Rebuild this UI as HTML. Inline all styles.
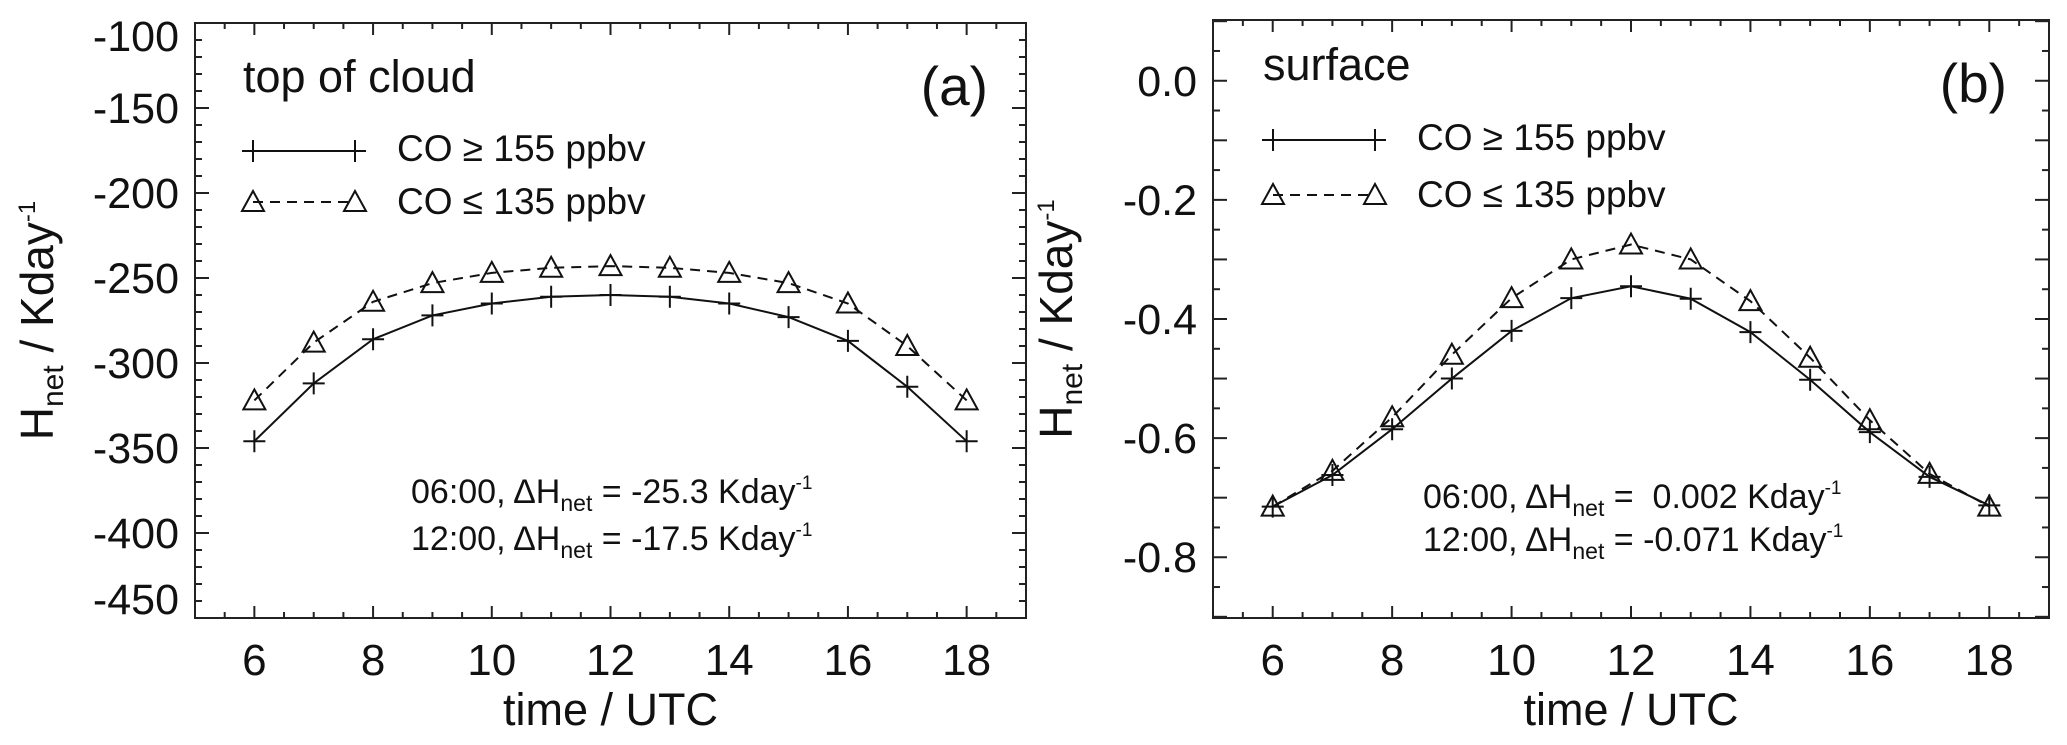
<!DOCTYPE html>
<html><head><meta charset="utf-8"><style>
html,body{margin:0;padding:0;background:#fff;}
svg{display:block;font-family:"Liberation Sans",Arial,sans-serif;}
</style></head><body>
<svg id="chart" width="2067" height="745" viewBox="0 0 2067 745" xmlns="http://www.w3.org/2000/svg"></svg>
<script>
const hours = [6,7,8,9,10,11,12,13,14,15,16,17,18];
const aHigh = [-346,-312,-286,-272,-265,-261,-260,-261,-265,-273,-287,-314,-346];
const aLow = [-322,-288,-264,-253,-247,-244,-243,-244,-247,-253,-265,-290,-322];
const bHigh = [-0.715,-0.662,-0.585,-0.5,-0.42,-0.365,-0.345,-0.366,-0.422,-0.502,-0.59,-0.665,-0.713];
const bLow = [-0.715,-0.655,-0.565,-0.46,-0.365,-0.3,-0.275,-0.3,-0.37,-0.465,-0.57,-0.66,-0.715];
const xTicks = [6,8,10,12,14,16,18];
const aYTicks = [-100,-150,-200,-250,-300,-350,-400,-450];
const bYTicks = [0,-0.2,-0.4,-0.6,-0.8];

const NS="http://www.w3.org/2000/svg";
const svg=document.getElementById('chart');
function mk(tag,attrs,parent,name){const e=document.createElementNS(NS,tag);for(const k in attrs)e.setAttribute(k,attrs[k]);


(parent||svg).appendChild(e);return e;}

function panel(o){
  const g=mk('g',{},svg,o.id);
  const sx=v=>o.L+(v-5)/(19-5)*(o.R-o.L);
  const sy=v=>o.B-(v-o.ymin)/(o.ymax-o.ymin)*(o.B-o.T);
  mk('rect',{x:o.L,y:o.T,width:o.R-o.L,height:o.B-o.T,fill:'none',stroke:'#222','stroke-width':2},g,'plot-frame');
  for(let h=5.5;h<19;h+=0.5){const x=sx(h);const maj=(h%2===0);const len=maj?12:6;
    mk('line',{x1:x,y1:o.B,x2:x,y2:o.B-len,stroke:'#222','stroke-width':2},g,'x-tick');
    mk('line',{x1:x,y1:o.T,x2:x,y2:o.T+len,stroke:'#222','stroke-width':2},g,'x-tick-top');}
  xTicks.forEach(t=>{const e=mk('text',{x:sx(t),y:o.B+57,'font-size':44,'text-anchor':'middle',fill:'#111'},g,'x-tick-label');e.textContent=t;});
  for(let v=o.ymin;v<=o.ymax+1e-9;v+=o.minor){const vv=Math.round(v/o.minor)*o.minor;const y=sy(vv);
    if(y<o.T-0.5||y>o.B+0.5)continue;
    const maj=Math.abs(vv/o.major-Math.round(vv/o.major))<1e-6;const len=maj?14:7;
    mk('line',{x1:o.L,y1:y,x2:o.L+len,y2:y,stroke:'#222','stroke-width':2},g,'y-tick');
    mk('line',{x1:o.R,y1:y,x2:o.R-len,y2:y,stroke:'#222','stroke-width':2},g,'y-tick-right');}
  o.yt.forEach(t=>{let y=sy(t)+15; if(y-30<o.T) y=o.T+28; if(y>o.B-2) y=o.B-4;
    const e=mk('text',{x:o.L-16,y:y,'font-size':43,'text-anchor':'end',fill:'#111'},g,'y-tick-label');e.textContent=o.fmt(t);});
  const xt=mk('text',{x:(sx(6)+sx(18))/2,y:o.B+107,'font-size':45,'text-anchor':'middle',fill:'#111'},g,'x-axis-title');xt.textContent='time / UTC';
  const yt=mk('text',{x:0,y:0,'font-size':46,'text-anchor':'middle',fill:'#111',transform:`translate(${o.ylx},${(o.T+o.B)/2}) rotate(-90)`},g,'y-axis-title');
  yt.innerHTML='H<tspan font-size="30" dy="10">net</tspan><tspan dy="-10"> / Kday</tspan><tspan font-size="24" dy="-18">-1</tspan>';
  const pts=arr=>arr.map((v,i)=>sx(hours[i])+','+sy(v)).join(' ');
  mk('polyline',{points:pts(o.hi),fill:'none',stroke:'#111','stroke-width':2},g,'series-co-high-line');
  mk('polyline',{points:pts(o.lo),fill:'none',stroke:'#111','stroke-width':2,'stroke-dasharray':'10,7'},g,'series-co-low-line');
  const plus=(x,y,n)=>{mk('path',{d:`M${x-11},${y}H${x+11}M${x},${y-11}V${y+11}`,stroke:'#111','stroke-width':2,fill:'none'},g,n);};
  const tri=(x,y,n)=>{mk('path',{d:`M${x},${y-11}L${x+11},${y+9}L${x-11},${y+9}Z`,stroke:'#111','stroke-width':2,fill:'none'},g,n);};
  o.hi.forEach((v,i)=>plus(sx(hours[i]),sy(v),'marker-co-high'));
  o.lo.forEach((v,i)=>tri(sx(hours[i]),sy(v),'marker-co-low'));
  const t1=mk('text',{x:o.tx,y:o.ty,'font-size':45,fill:'#111'},g,'panel-title');t1.textContent=o.title;
  const t2=mk('text',{x:o.lx,y:o.ly,'font-size':55,'text-anchor':'end',fill:'#111'},g,'panel-label');t2.textContent=o.label;
  const l=o.leg;
  mk('line',{x1:l.x1,y1:l.y1,x2:l.x2,y2:l.y1,stroke:'#111','stroke-width':2},g,'legend-line-high');
  plus(l.x1,l.y1,'legend-marker-high');plus(l.x2,l.y1,'legend-marker-high');
  mk('line',{x1:l.x1,y1:l.y2,x2:l.x2,y2:l.y2,stroke:'#111','stroke-width':2,'stroke-dasharray':'10,7'},g,'legend-line-low');
  tri(l.x1,l.y2,'legend-marker-low');tri(l.x2,l.y2,'legend-marker-low');
  const e1=mk('text',{x:l.tx,y:l.y1+10,'font-size':37,fill:'#111'},g,'legend-entry-high');e1.textContent='CO ≥ 155 ppbv';
  const e2=mk('text',{x:l.tx,y:l.y2+12,'font-size':37,fill:'#111'},g,'legend-entry-low');e2.textContent='CO ≤ 135 ppbv';
  o.ann.forEach((s,i)=>{const a=mk('text',{x:o.ax,y:o.ay[i],'font-size':34,fill:'#111'},g,'annotation');
    a.innerHTML=s[0]+'ΔH<tspan font-size="23" dy="8">net</tspan><tspan dy="-8"> = '+s[1]+' Kday</tspan><tspan font-size="19" dy="-14">-1</tspan>';});
}
panel({id:'panel-a',L:195,R:1026,T:23,B:618,ymin:-450,ymax:-100,minor:10,major:50,yt:aYTicks,fmt:t=>String(t),
  ylx:53,hi:aHigh,lo:aLow,title:'top of cloud',tx:243,ty:92,label:'(a)',lx:988,ly:105,
  leg:{x1:253,x2:355,y1:151,y2:202,tx:397},ax:411,ann:[['06:00, ','-25.3'],['12:00, ','-17.5']],ay:[503,550]});
panel({id:'panel-b',L:1213,R:2049,T:20,B:618,ymin:-0.902,ymax:0.102,minor:0.05,major:0.1,yt:bYTicks,fmt:t=>t.toFixed(1),
  ylx:1072,hi:bHigh,lo:bLow,title:'surface',tx:1263,ty:80,label:'(b)',lx:2007,ly:102,
  leg:{x1:1273,x2:1375,y1:140,y2:195,tx:1417},ax:1423,ann:[['06:00, ','&#160;0.002'],['12:00, ','-0.071']],ay:[508,551]});
</script>
</body></html>
